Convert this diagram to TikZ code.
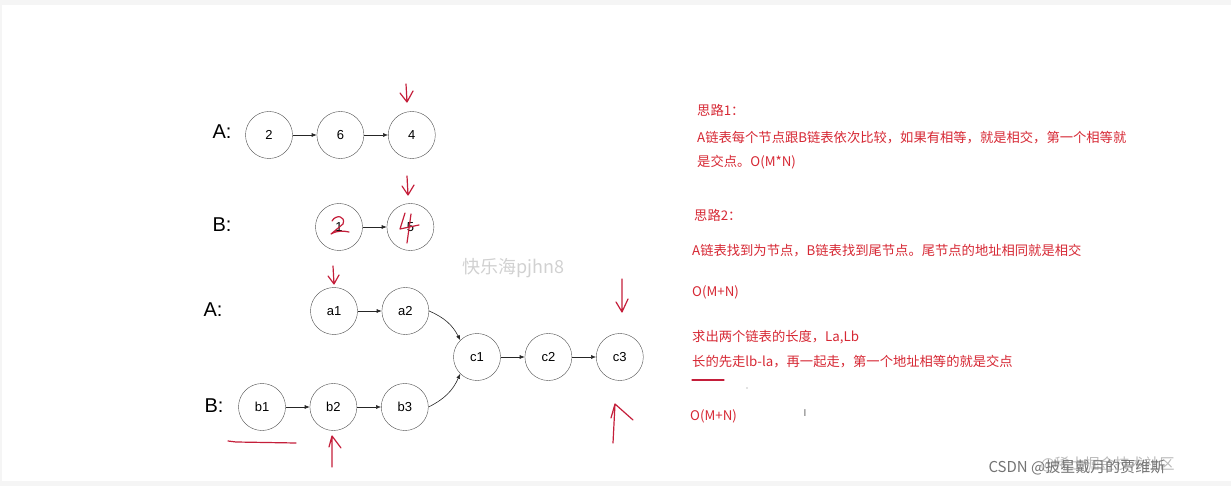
\documentclass[tikz,border=0pt]{standalone}
\usepackage{fontspec}
\setmainfont{Liberation Sans}
\newfontfamily\cjk{Noto Sans CJK SC}
\usetikzlibrary{arrows.meta,positioning}
\definecolor{inkred}{RGB}{214,40,52}
\definecolor{pen}{RGB}{196,30,58}

\begin{document}
\begin{tikzpicture}[
    x=1pt, y=-1pt,
    node distance=24pt,
    elem/.style={draw=black!70, circle, minimum size=47pt, inner sep=0pt, font=\fontsize{13}{13}\selectfont},
    rowlabel/.style={font=\fontsize{20}{20}\selectfont},
    link/.style={-{Latex[length=5pt,width=4pt]}, black!85, semithick},
    note/.style={anchor=west, inkred, font=\cjk\fontsize{13.3}{13.3}\selectfont, inner sep=0pt},
    handmark/.style={pen, line width=1.2pt, line cap=round, line join=round}
]
\useasboundingbox (0,0) rectangle (1231,486);
% frame of the screenshot
\fill[black!4] (0,0) rectangle (1231,5);
\fill[black!4] (0,0) rectangle (2,486);
\fill[black!4] (0,481) rectangle (1231,486);

% first example
\node[rowlabel] (la1) at (222,132) {A:};
\node[elem] (n2) at (269,135) {2};
\node[elem, right=of n2] (n6) {6};
\node[elem, right=of n6] (n4) {4};
\node[rowlabel] (lb1) at (222,225) {B:};
\node[elem] (m1) at (339,227) {1};
\node[elem, right=of m1] (m5) {5};
\draw[link] (n2) -- (n6);
\draw[link] (n6) -- (n4);
\draw[link] (m1) -- (m5);

% second example
\node[rowlabel] (la2) at (213,310) {A:};
\node[elem] (a1) at (334,311) {a1};
\node[elem, right=of a1] (a2) {a2};
\node[elem] (c1) at (477,357) {c1};
\node[elem, right=of c1] (c2) {c2};
\node[elem, right=of c2] (c3) {c3};
\node[rowlabel] (lb2) at (214,406) {B:};
\node[elem] (b1) at (262,407) {b1};
\node[elem, right=of b1] (b2) {b2};
\node[elem, right=of b2] (b3) {b3};
\draw[link] (a1) -- (a2);
\draw[link] (a2.east) to[bend left=20] (c1.north west);
\draw[link] (b1) -- (b2);
\draw[link] (b2) -- (b3);
\draw[link] (b3.east) to[bend right=20] (c1.south west);
\draw[link] (c1) -- (c2);
\draw[link] (c2) -- (c3);

% watermark
\node[black!18, font=\cjk\fontsize{18}{18}\selectfont] (wm) at (513,268) {快乐海pjhn8};

% notes
\node[note] (t1) at (697,110) {思路1：};
\node[note] (t2) at (697,138) {A链表每个节点跟B链表依次比较，如果有相等，就是相交，第一个相等就};
\node[note] (t3) at (697,162) {是交点。O(M*N)};
\node[note] (t4) at (694,215) {思路2：};
\node[note] (t5) at (692,251) {A链表找到为节点，B链表找到尾节点。尾节点的地址相同就是相交};
\node[note] (t6) at (692,292) {O(M+N)};
\node[note] (t7) at (692,337) {求出两个链表的长度，La,Lb};
\node[note] (t8) at (692,362) {长的先走lb-la，再一起走，第一个地址相等的就是交点};
\node[note] (t9) at (690,416) {O(M+N)};
\node[black!60, font=\fontsize{10}{10}\selectfont] (cursor) at (805,413) {I};

% handwriting
\draw[handmark] (406,84) -- (407,102) (400,93) -- (407,102) -- (413,91);
\draw[handmark] (407,176) -- (408,195) (402,186) -- (408,195) -- (414,185);
\draw[handmark] (333,266) -- (334,284) (328,276) -- (334,284) -- (339,275);
\draw[handmark] (622,279) -- (622,312) (616,302) -- (622,312) -- (628,299);
\draw[handmark] (613,443) -- (615,404) -- (633,420) (611,418) -- (615,404);
\draw[handmark] (332,467) -- (332,436) -- (341,448) (329,447) -- (332,436);
\draw[handmark] (228,441) -- (236,442) -- (296,443);
\draw[handmark] (692,380) -- (724,380);
\fill[black!50] (747,388) circle (0.7);
% overwritten values
\draw[handmark] (332,221) .. controls (336,214) and (346,216) .. (343,224)
  -- (331,234) .. controls (338,230) and (344,231) .. (349,232);
\draw[handmark] (405,213) -- (400,229) -- (419,225) (411,214) -- (407,243);

% site marks
\node[black!45, anchor=west, font=\cjk\fontsize{15}{15}\selectfont, opacity=0.6] (src2) at (1037,464) {@稀土掘金技术社区};
\node[black!55, anchor=west, font=\cjk\fontsize{15}{15}\selectfont] (src1) at (985,467) {CSDN @披星戴月的贾维斯};
\end{tikzpicture}
\end{document}
